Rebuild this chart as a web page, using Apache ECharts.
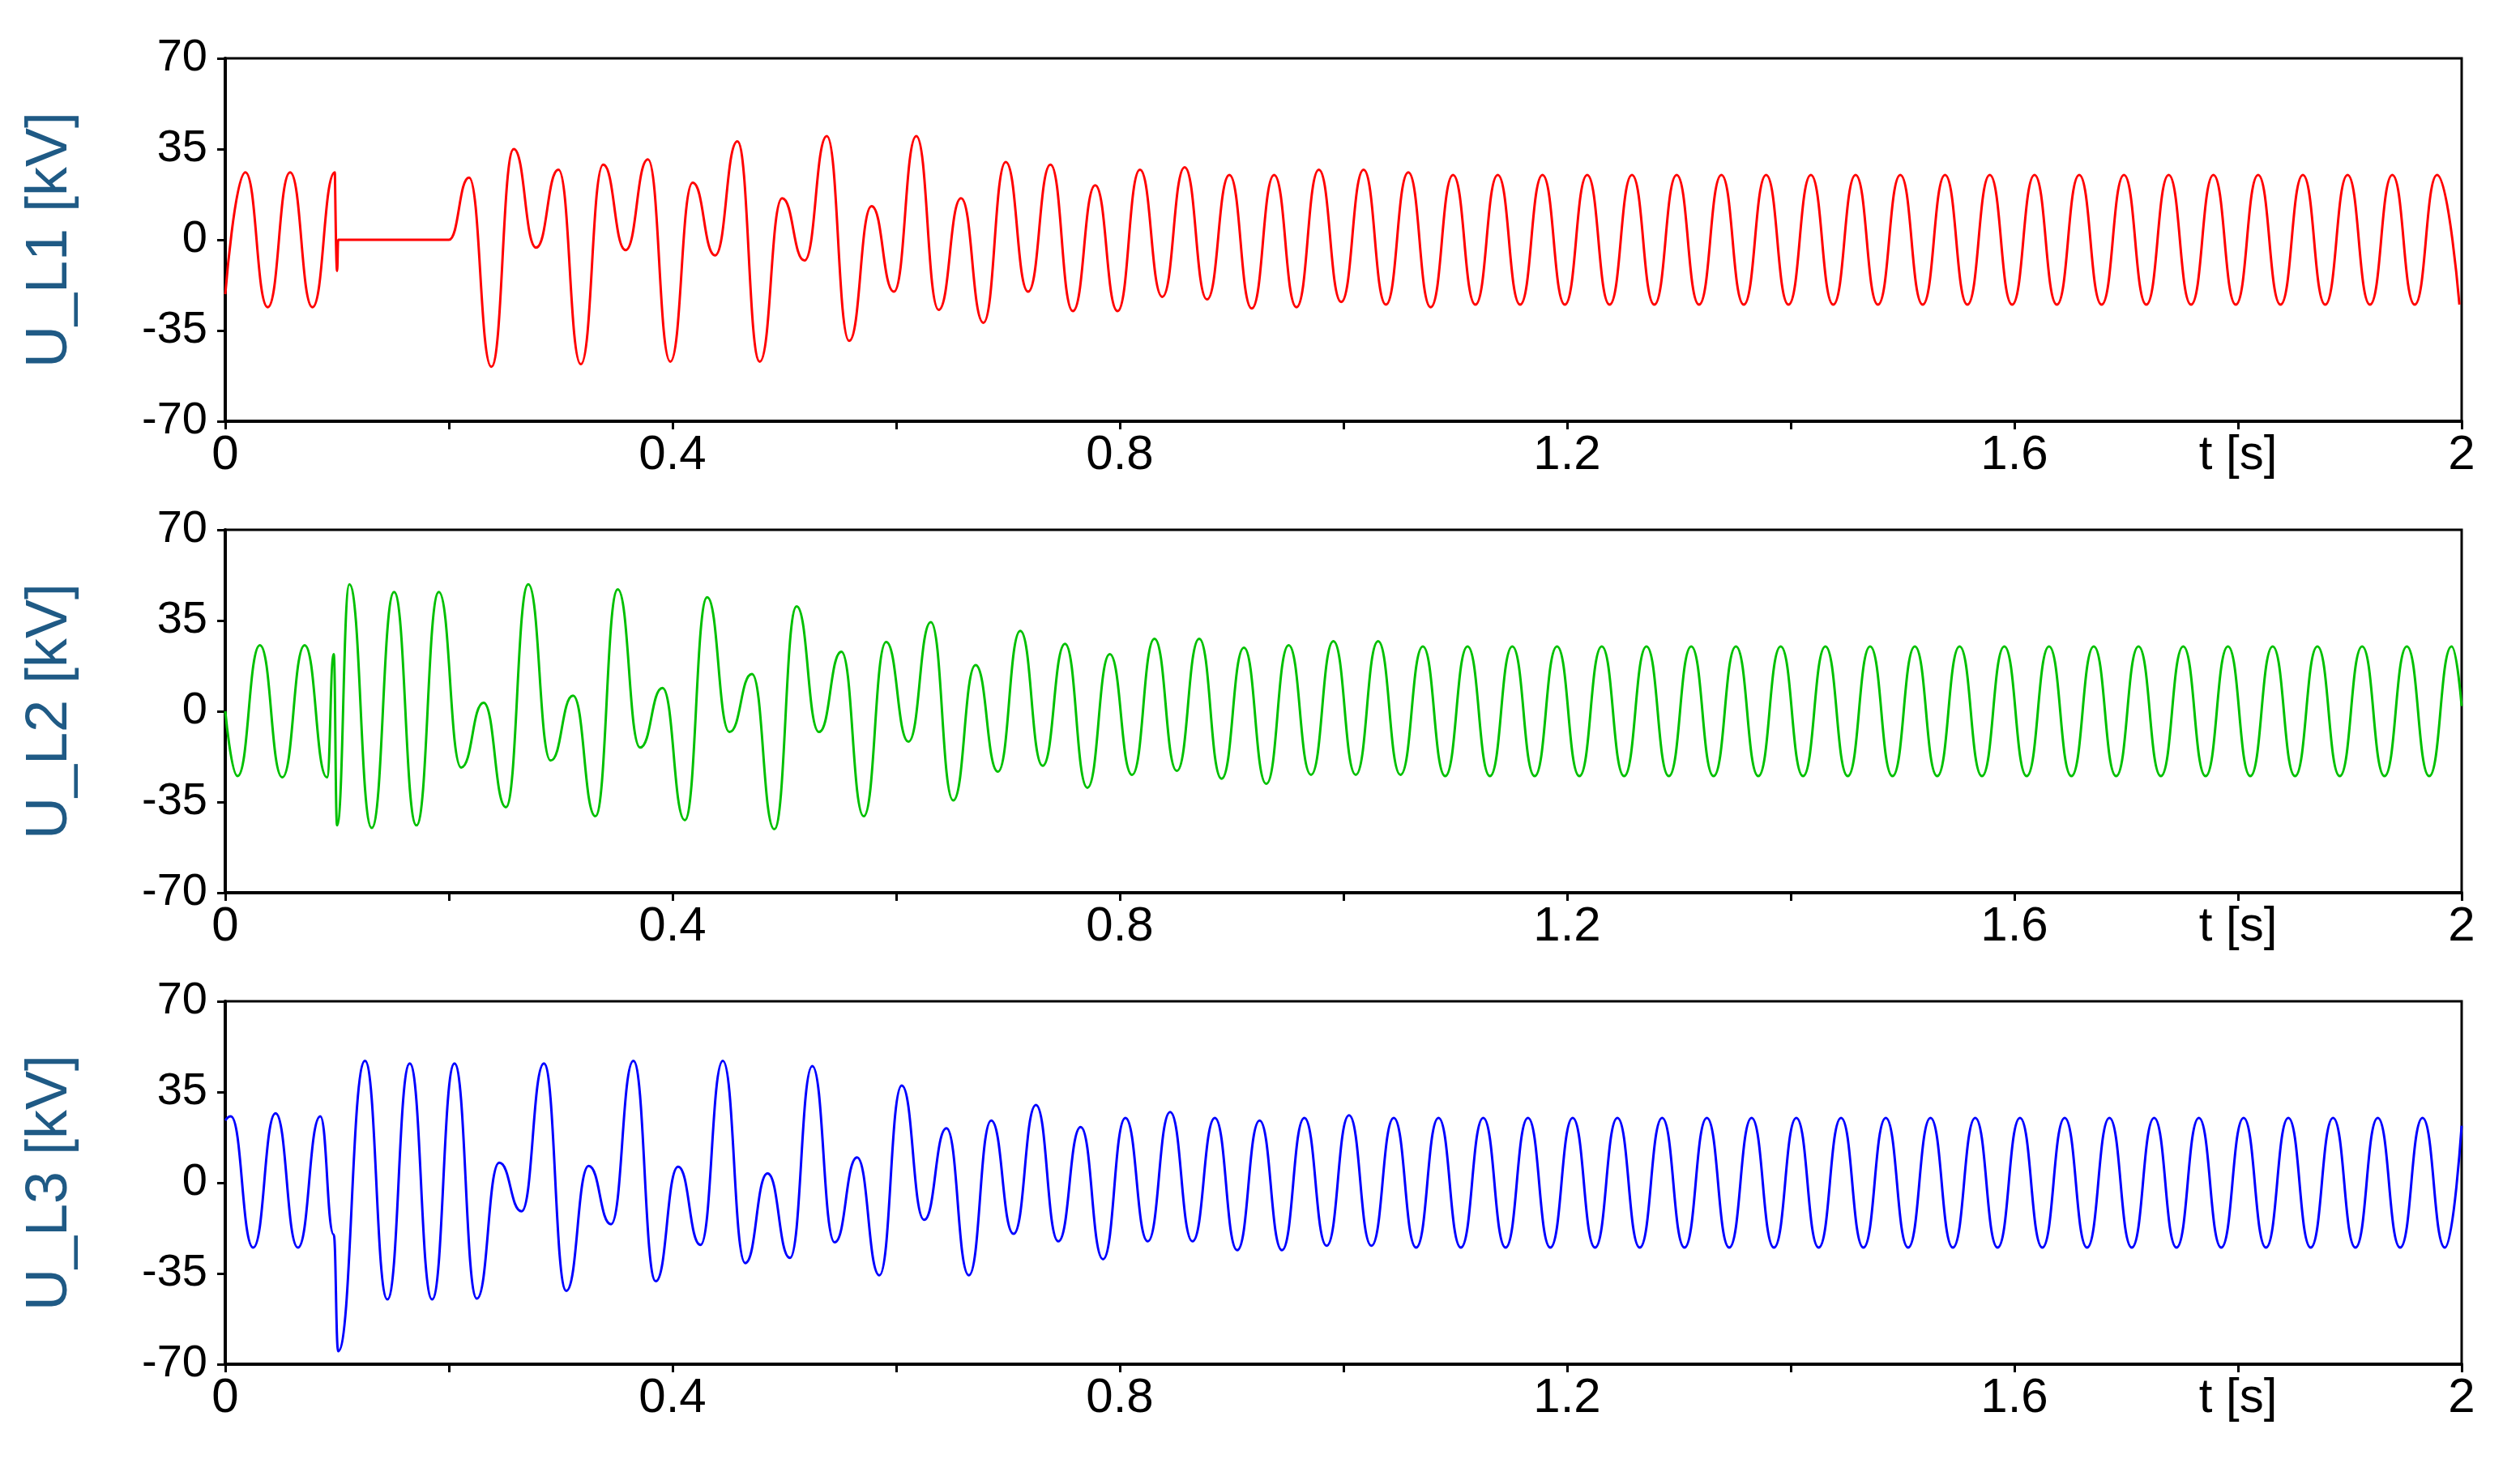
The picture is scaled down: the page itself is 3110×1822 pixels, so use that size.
<!DOCTYPE html>
<html><head><meta charset="utf-8">
<script src="https://cdn.jsdelivr.net/npm/echarts@6/dist/echarts.min.js"></script>
<style>html,body{margin:0;padding:0;background:#fff}#c{width:3110px;height:1822px}</style>
</head><body><div id="c"></div>
<script>
// Extremum values, one every 0.02 s (half of the 0.04 s visible period)
const xTicks = [0, 0.4, 0.8, 1.2, 1.6, 't [s]', 2];
const yTicks = [-70, -35, 0, 35, 70];
const names = ['U_L1 [kV]', 'U_L2 [kV]', 'U_L3 [kV]'];

const redStart = [[0, -21]];
const redA_t0 = 0.018;
const redA = [26, -26, 26, -26, 26];
const redFault = [[0.0985, 26], [0.100, -12], [0.101, 0], [0.200, 0]];
const redB_t0 = 0.218;
const redB = [24, -49, 35, -3, 27, -48, 29, -4, 31, -47, 22, -6, 38, -47, 16, -8, 40, -39, 13, -20,
  40, -27, 16, -32, 30, -20, 29, -27.5, 21, -27.5, 27, -22, 28, -23, 25, -26.5, 25, -26, 27, -24,
  27, -25, 26, -26,
  25, -25, 25, -25, 25, -25, 25, -25, 25, -25, 25, -25, 25, -25, 25, -25, 25, -25, 25, -25,
  25, -25, 25, -25, 25, -25, 25, -25, 25, -25, 25, -25, 25, -25, 25, -25, 25, -25, 25, -25,
  25, -25, 25, -25, 25, -25];

const greenStart = [[0, 0]];
const greenA_t0 = 0.011;
const greenA = [-25, 25.5, -25.5, 25.5, -25.5];
const greenSpike = [[0.097, 22], [0.100, -44]];
const greenB_t0 = 0.111;
const greenB = [49, -45, 46, -44, 46, -21.7, 3.3, -37, 49, -19, 6, -40.5, 47, -14, 9, -42, 44, -8, 14.4, -45.5,
  40.5, -8, 23, -40.5, 26.7, -11.7, 34.4, -34.4, 17.8, -23.3, 31, -21, 26, -29.5, 22, -24.5, 28, -23, 28, -26,
  24.5, -28, 25.5, -24.5, 27, -24.5, 27, -24.5,
  25, -25, 25, -25, 25, -25, 25, -25, 25, -25, 25, -25, 25, -25, 25, -25, 25, -25, 25, -25,
  25, -25, 25, -25, 25, -25, 25, -25, 25, -25, 25, -25, 25, -25, 25, -25, 25, -25, 25, -25,
  25, -25, 25, -25, 25, -25, 25];
const greenEnd = [[2.0, 2]];

const blueStart = [[0, 24]];
const blueA_t0 = 0.005;
const blueA = [25.6, -25, 26.8, -25, 25.6];
const blueSpike = [[0.097, -20], [0.101, -65]];
const blueB_t0 = 0.125;
const blueB = [47, -45, 46, -45, 46, -44.7, 7.7, -11, 46, -41.7, 6.5, -16, 47, -38, 6.2, -24, 47, -31, 3.6, -29,
  45, -23, 9.8, -35.7, 37.5, -14.3, 21, -35.7, 24, -19.7, 30, -22.6, 21.5, -29.5, 25, -22.6, 27.3, -22.6, 25, -26,
  24, -26, 25, -24.3, 26, -24.3,
  25, -25, 25, -25, 25, -25, 25, -25, 25, -25, 25, -25, 25, -25, 25, -25, 25, -25, 25, -25,
  25, -25, 25, -25, 25, -25, 25, -25, 25, -25, 25, -25, 25, -25, 25, -25, 25, -25, 25, -25,
  25, -25, 25, -25, 25, -25, 25, -25];
const blueEnd = [[2.0, 22]];

function seq(t0, vals) { return vals.map((v, i) => [+(t0 + 0.02 * i).toFixed(4), v]); }

const dataSets = [
  [].concat(redStart, seq(redA_t0, redA), redFault, seq(redB_t0, redB)),
  [].concat(greenStart, seq(greenA_t0, greenA), greenSpike, seq(greenB_t0, greenB), greenEnd),
  [].concat(blueStart, seq(blueA_t0, blueA), blueSpike, seq(blueB_t0, blueB), blueEnd)
];
const colors = ['#ff0000', '#00c000', '#0000ff'];
const tops = [72, 654, 1236];
const font = 'Liberation Sans, Arial, sans-serif';

const chart = echarts.init(document.getElementById('c'));
chart.setOption({
  animation: false,
  backgroundColor: '#fff',
  grid: tops.map(t => ({left: 278, right: 72, top: t, height: 448, show: true, borderColor: '#000', borderWidth: 3, backgroundColor: 'transparent'})),
  xAxis: tops.map((t, i) => ({
    type: 'value', gridIndex: i, min: 0, max: 2, interval: 0.2,
    axisLine: {show: true, onZero: false, lineStyle: {color: '#000', width: 4}},
    axisTick: {show: true, length: 10, lineStyle: {color: '#000', width: 3}},
    splitLine: {show: false},
    axisLabel: {fontFamily: font, fontSize: 60, color: '#000', margin: 12,
      formatter: v => { const k = Math.round(v * 10); if (k === 18) return xTicks[5]; return k % 4 === 0 ? String(xTicks[[0,4,8,12,16,-1,20].indexOf(k)]) : ''; }}
  })),
  yAxis: tops.map((t, i) => ({
    type: 'value', gridIndex: i, min: yTicks[0], max: yTicks[4], interval: 35,
    name: names[i], nameLocation: 'middle', nameRotate: 90, nameGap: 180,
    nameTextStyle: {fontFamily: font, fontSize: 72, color: '#1f5a85'},
    axisLine: {show: true, onZero: false, lineStyle: {color: '#000', width: 4}},
    axisTick: {show: true, length: 10, lineStyle: {color: '#000', width: 3}},
    splitLine: {show: false},
    axisLabel: {fontFamily: font, fontSize: 56, color: '#000', margin: 22}
  })),
  series: dataSets.map((d, i) => ({
    type: 'line', xAxisIndex: i, yAxisIndex: i, data: d, showSymbol: false,
    smooth: 0.5, smoothMonotone: 'x',
    lineStyle: {color: colors[i], width: 3}
  }))
});
</script></body></html>
